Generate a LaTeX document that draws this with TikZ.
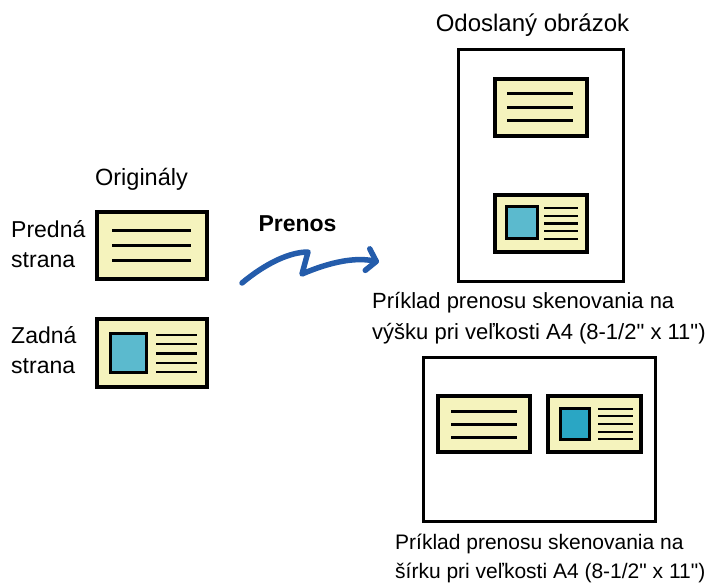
\documentclass[tikz,border=0pt]{standalone}
\usepackage{fontspec}
\setmainfont{Liberation Sans}[Ligatures=TeXOff]
\usepackage{tikz}
\usetikzlibrary{arrows.meta,positioning}
\definecolor{cardyellow}{RGB}{245,243,189}
\definecolor{photoblue}{RGB}{91,186,206}
\definecolor{photodark}{RGB}{42,166,196}
\definecolor{flowblue}{RGB}{36,92,171}
\tikzstyle{card} = [draw, line width=3.5pt, fill=cardyellow]
\tikzstyle{photo} = [draw, line width=3pt]
\tikzstyle{cardline} = [line width=3pt]
\tikzstyle{thinline} = [line width=2.5pt]
\tikzstyle{sheet} = [draw, line width=3pt, fill=white]
\tikzstyle{txt} = [inner sep=0, font=\fontsize{23}{30}\selectfont, align=left]
\tikzstyle{flow} = [line width=5.5pt, flowblue, line cap=round, line join=round,
  -{Straight Barb[length=9pt,width=22pt,line cap=round,line join=round]}]

\begin{document}
\begin{tikzpicture}[x=1pt, y=-1pt]
\useasboundingbox (0,0) rectangle (709,585);

% Originals (base anchor of a two-line text = its last line)
\node[txt, anchor=base, font=\fontsize{23.5}{30}\selectfont] (orig) at (141.5,186) {Originály};
\node[txt, anchor=base west] (front) at (11,268) {Predná\\strana};
\node[txt, anchor=base west] (back) at (11,373) {Zadná\\strana};

% front side
\draw[card] (97,212) rectangle (207,279);
\draw[cardline] (112,231) -- (191,231);
\draw[cardline] (112,246) -- (191,246);
\draw[cardline] (112,261) -- (191,261);

% back side
\draw[card] (97,319) rectangle (207,387);
\draw[photo, fill=photoblue] (110,333) rectangle (146,372);
\draw[thinline] (156,335) -- (197,335);
\draw[thinline] (156,344) -- (197,344);
\draw[thinline] (156,353.5) -- (197,353.5);
\draw[thinline] (156,363) -- (197,363);
\draw[thinline] (156,372) -- (197,372);

% Transfer arrow
\node[txt, anchor=base, font=\fontsize{23}{30}\selectfont\bfseries] (prenos) at (297.5,232) {Prenos};
\coordinate (src) at (242,283);
\coordinate (dst) at (379,262);
\draw[flow] (src) .. controls (266,263) and (290,252) .. (308,252)
  -- (302,274) .. controls (330,262) and (355,257) .. (dst);

% Portrait result
\node[txt, anchor=base, font=\fontsize{24}{30}\selectfont] (sent) at (532.5,32) {Odoslaný obrázok};
\draw[sheet] (458,50) rectangle (623,281);
\draw[card] (495,79) rectangle (587,136);
\draw[cardline] (507,94) -- (573,94);
\draw[cardline] (507,108) -- (573,108);
\draw[cardline] (507,121) -- (573,121);
\draw[card] (495,195) rectangle (587,252);
\draw[photo, fill=photoblue] (506,207) rectangle (537,239);
\draw[thinline] (544,208) -- (578,208);
\draw[thinline] (544,216) -- (578,216);
\draw[thinline] (544,223.5) -- (578,223.5);
\draw[thinline] (544,231) -- (578,231);
\draw[thinline] (544,239) -- (578,239);
\node[txt, anchor=base west, font=\fontsize{22}{31}\selectfont] (portrait) at (372,339)
  {Príklad prenosu skenovania na\\výšku pri veľkosti A4 (8-1/2" x 11")};

% Landscape result
\draw[sheet] (423,357) rectangle (655,521);
\draw[card] (438,396) rectangle (530,452);
\draw[cardline] (451,411) -- (517,411);
\draw[cardline] (451,424) -- (517,424);
\draw[cardline] (451,437) -- (517,437);
\draw[card] (548,396) rectangle (641,452);
\draw[photo, fill=photodark] (560,408) rectangle (589,439);
\draw[thinline] (598,409) -- (633,409);
\draw[thinline] (598,416) -- (633,416);
\draw[thinline] (598,424) -- (633,424);
\draw[thinline] (598,432) -- (633,432);
\draw[thinline] (598,439) -- (633,439);
\node[txt, anchor=base west, font=\fontsize{21}{29}\selectfont] (landscape) at (395,578)
  {Príklad prenosu skenovania na\\šírku pri veľkosti A4 (8-1/2" x 11")};

\end{tikzpicture}
\end{document}
